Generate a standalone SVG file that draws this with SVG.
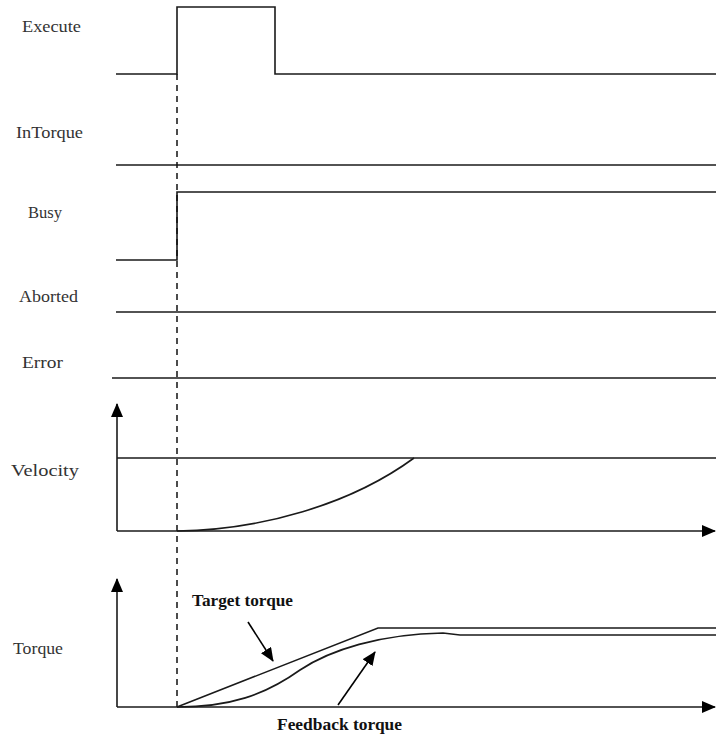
<svg xmlns="http://www.w3.org/2000/svg" width="716" height="740" viewBox="0 0 716 740">
<style>
.sig{fill:none;stroke:#1a1a1a;stroke-width:1.6}
.lbl{font-family:"Liberation Serif",serif;font-size:16px;fill:#333}
.ann{font-family:"Liberation Serif",serif;font-size:16px;font-weight:bold;fill:#111}
</style>
<defs>
<marker id="ahb" markerWidth="14" markerHeight="12" refX="13" refY="6" orient="auto" markerUnits="userSpaceOnUse" viewBox="0 0 14 12">
<path d="M0,0 L14,6 L0,12 Z" fill="#000"/>
</marker>
</defs>
<rect width="716" height="740" fill="#fff"/>
<g id="labels">
<text class="lbl" x="22" y="32" textLength="59" lengthAdjust="spacingAndGlyphs">Execute</text>
<text class="lbl" x="16" y="138" textLength="67" lengthAdjust="spacingAndGlyphs">InTorque</text>
<text class="lbl" x="28" y="218" textLength="34" lengthAdjust="spacingAndGlyphs">Busy</text>
<text class="lbl" x="19" y="302" textLength="59" lengthAdjust="spacingAndGlyphs">Aborted</text>
<text class="lbl" x="22" y="368" textLength="41" lengthAdjust="spacingAndGlyphs">Error</text>
<text class="lbl" x="11" y="476" textLength="68" lengthAdjust="spacingAndGlyphs">Velocity</text>
<text class="lbl" x="13" y="654" textLength="50" lengthAdjust="spacingAndGlyphs">Torque</text>
</g>
<g id="signals">
<path id="execute" class="sig" d="M116,74 H177 V7 H275 V74 H716"/>
<path id="intorque" class="sig" d="M116,165 H716"/>
<path id="busy" class="sig" d="M116,260 H177 V192 H716"/>
<path id="aborted" class="sig" d="M116,312 H716"/>
<path id="error" class="sig" d="M112,378 H716"/>
</g>
<g id="connectors">
<line x1="177" y1="74" x2="177" y2="710" stroke="#111" stroke-width="1.5" stroke-dasharray="6,5"/>
<g id="velocity-chart">
<path class="sig" d="M117,531 V404" marker-end="url(#ahb)"/>
<path class="sig" d="M117,531 H715" marker-end="url(#ahb)"/>
<path class="sig" d="M117,458 H716"/>
<path class="sig" d="M177,531 C260,530 350,505 414,458"/>
</g>
<g id="torque-chart">
<path class="sig" d="M117,707 V579" marker-end="url(#ahb)"/>
<path class="sig" d="M117,707 H715" marker-end="url(#ahb)"/>
<path class="sig" d="M177,707 L378,628 H716"/>
<path class="sig" d="M177,707 C230,707 265,695 300,670 C330,650 380,634 443,633 L460,635 H716"/>
<line x1="248" y1="622" x2="273" y2="661" stroke="#000" stroke-width="1.6" marker-end="url(#ahb)"/>
<line x1="338" y1="705" x2="375" y2="652" stroke="#000" stroke-width="1.6" marker-end="url(#ahb)"/>
</g>
</g>
<g id="annotations">
<text class="ann" x="192" y="606" textLength="101" lengthAdjust="spacingAndGlyphs">Target torque</text>
<text class="ann" x="277" y="730" textLength="125" lengthAdjust="spacingAndGlyphs">Feedback torque</text>
</g>
</svg>
